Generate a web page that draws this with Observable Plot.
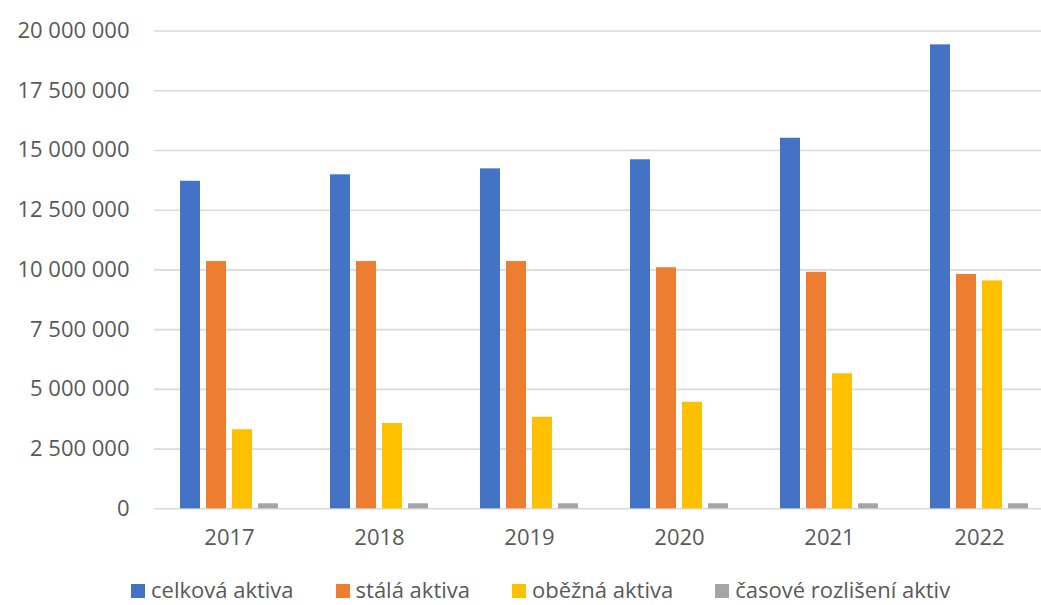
<!DOCTYPE html>
<html>
<head>
<meta charset="utf-8">
<script src="https://cdn.jsdelivr.net/npm/d3@7"></script>
<script src="https://cdn.jsdelivr.net/npm/@observablehq/plot@0.6"></script>
<style>
  body { margin: 0; background: #fff; font-family: "Open Sans", sans-serif; }
  #chart { position: relative; width: 1041px; height: 605px; overflow: hidden; }
  .legend { position: absolute; left: 131px; top: 577.5px; display: flex; gap: 42px;
            font-size: 22px; line-height: 22px; color: #595959; white-space: nowrap; }
  .legend .item { display: flex; align-items: flex-start; }
  .legend .sw { display: inline-block; width: 14px; height: 14px; margin-top: 6.5px; margin-right: 6px; }
</style>
</head>
<body>
<div id="chart"></div>
<script>
// Aktiva podniku 2017–2022 (v tis. Kč)
const years = ["2017", "2018", "2019", "2020", "2021", "2022"];
const series = ["celková aktiva", "stálá aktiva", "oběžná aktiva", "časové rozlišení aktiv"];
const colors = ["#4472C4", "#ED7D31", "#FFC000", "#A5A5A5"];

const celkovaAktiva = [13710000, 13980000, 14230000, 14610000, 15510000, 19420000];
const stalaAktiva = [10350000, 10350000, 10350000, 10090000, 9900000, 9810000];
const obeznaAktiva = [3310000, 3570000, 3830000, 4460000, 5650000, 9540000];
const casoveRozliseni = [210000, 210000, 210000, 210000, 210000, 210000];

const yTicks = [0, 2500000, 5000000, 7500000, 10000000, 12500000, 15000000, 17500000, 20000000];

const valuesBySeries = [celkovaAktiva, stalaAktiva, obeznaAktiva, casoveRozliseni];
const rows = years.flatMap((year, i) =>
  series.map((s, j) => ({ year, series: s, value: valuesBySeries[j][i] }))
);

const fmt = d => d3.format(",")(d).replace(/,/g, "\u00a0");

const chart = Plot.plot({
  width: 1041,
  height: 565,
  marginLeft: 153,
  marginRight: -14,
  marginTop: 30.5,
  marginBottom: 56.7,
  style: { fontFamily: "Open Sans, sans-serif", fontSize: "22px", color: "#595959", background: "#fff", overflow: "visible" },
  fx: { domain: years, paddingInner: 0, paddingOuter: 0, label: null },
  x: { domain: series, paddingInner: 0.222, paddingOuter: 0.894, axis: null },
  y: { domain: [0, 20000000], axis: null },
  color: { domain: series, range: colors },
  marks: [
    Plot.gridY(yTicks, { stroke: "#d9d9d9", strokeOpacity: 1, strokeWidth: 1.6 }),
    Plot.axisY(yTicks, { tickSize: 0, tickPadding: 25, tickFormat: fmt, fontSize: 22, label: null }),
    Plot.axisFx({ anchor: "bottom", tickSize: 0, tickPadding: 21, fontSize: 22, label: null }),
    Plot.barY(rows, { fx: "year", x: "series", y: "value", fill: "series" })
  ]
});

const root = document.getElementById("chart");
root.appendChild(chart);

const legend = document.createElement("div");
legend.className = "legend";
series.forEach((s, i) => {
  const item = document.createElement("div");
  item.className = "item";
  const sw = document.createElement("span");
  sw.className = "sw";
  sw.style.background = colors[i];
  const label = document.createElement("span");
  label.textContent = s;
  item.append(sw, label);
  legend.appendChild(item);
});
root.appendChild(legend);
</script>
</body>
</html>
